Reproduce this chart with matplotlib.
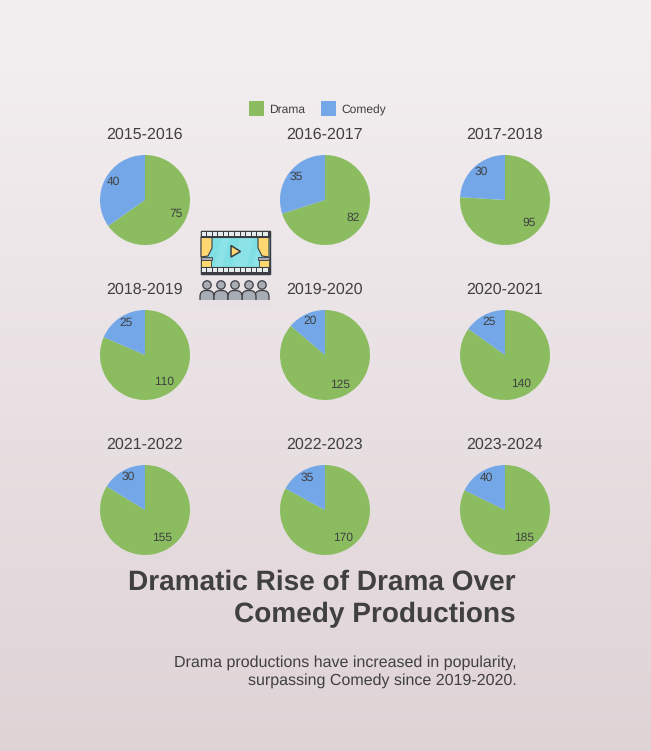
import numpy as np
import matplotlib
matplotlib.use('Agg')
import matplotlib.pyplot as plt
from matplotlib.patches import Rectangle, Polygon, Circle, FancyBboxPatch

plt.rcParams['font.family'] = ['Liberation Sans', 'DejaVu Sans']
plt.rcParams['text.hinting'] = 'no_hinting'
plt.rcParams['text.hinting_factor'] = 1

seasons = ['2015-2016', '2016-2017', '2017-2018',
           '2018-2019', '2019-2020', '2020-2021',
           '2021-2022', '2022-2023', '2023-2024']
drama = [75, 82, 95, 110, 125, 140, 155, 170, 185]
comedy = [40, 35, 30, 25, 20, 25, 30, 35, 40]

GREEN = '#8bbd60'
BLUE = '#73a7e8'
TEXT = '#404040'
LINE = '#3a3d42'

W, H = 651, 751
fig = plt.figure(figsize=(W / 100, H / 100), dpi=100)

# background and everything placed in pixels
bg = fig.add_axes([0, 0, 1, 1])
bg.set_xlim(0, W)
bg.set_ylim(H, 0)
bg.axis('off')
grad = np.linspace(0, 1, 256).reshape(-1, 1)
top = np.array([0xf4, 0xf0, 0xf2]) / 255
bottom = np.array([0xdf, 0xd3, 0xd6]) / 255
bg.imshow(top + grad[..., None] * (bottom - top), extent=[0, W, H, 0], aspect='auto', zorder=0)

# pies
centers_x = [145, 325, 505]
centers_y = [200, 355, 510]
radius = 45


def show_value(values):
    total = sum(values)
    return lambda pct: f'{round(pct * total / 100)}'


for i, season in enumerate(seasons):
    cx = centers_x[i % 3]
    cy = centers_y[i // 3]
    ax = fig.add_axes([(cx - radius - 1) / W, 1 - (cy + radius + 1) / H,
                       (2 * radius + 2) / W, (2 * radius + 2) / H])
    vals = [drama[i], comedy[i]]
    wedges, texts, autotexts = ax.pie(vals, colors=[GREEN, BLUE], startangle=90, counterclock=False,
                                      radius=1, autopct=show_value(vals), pctdistance=0.78,
                                      wedgeprops={'linewidth': 0})
    ax.set_xlim(-46 / 45, 46 / 45)
    ax.set_ylim(-46 / 45, 46 / 45)
    for t in autotexts:
        x, y = t.get_position()
        t.set_position((x, y + 2.5 / 45))
        t.set_fontsize(8.6)
        t.set_color(TEXT)
    bg.text(cx - 0.7, cy - 65, season, ha='center', va='center', fontsize=11.5, color=TEXT)

# legend
bg.add_patch(Rectangle((249, 101), 15, 15, fc=GREEN, ec='none'))
bg.text(269, 110, 'Drama', ha='left', va='center', fontsize=8.6, color=TEXT)
bg.add_patch(Rectangle((321, 101), 15, 15, fc=BLUE, ec='none'))
bg.text(341, 110, 'Comedy', ha='left', va='center', fontsize=8.6, color=TEXT)

# titles
bg.text(516, 582, 'Dramatic Rise of Drama Over', ha='right', va='center', fontsize=20,
        fontweight='bold', color=TEXT)
bg.text(516, 615, 'Comedy Productions', ha='right', va='center', fontsize=20,
        fontweight='bold', color=TEXT)
bg.text(516.5, 662.7, 'Drama productions have increased in popularity,', ha='right', va='center',
        fontsize=11.5, color=TEXT)
bg.text(516.5, 680.7, 'surpassing Comedy since 2019-2020.', ha='right', va='center',
        fontsize=11.5, color=TEXT)

# cinema icon
bg.add_patch(Rectangle((200.5, 230.5), 69, 43, fc='#7fdfe3', ec=LINE, lw=1, zorder=3))
for x0, x1 in [(214, 222), (232, 246), (252, 258)]:
    bg.add_patch(Polygon([(x0, 267), (x0 + 8, 237), (x1 + 8, 237), (x1, 267)], fc='#8ce3e7', ec='none', zorder=3))
bg.add_patch(Polygon([(201, 237), (212, 237), (212, 248), (208, 256), (201, 257)], fc='#ffd872', ec=LINE, lw=0.8, zorder=4))
bg.add_patch(Polygon([(269, 237), (258, 237), (258, 248), (262, 256), (269, 257)], fc='#ffd872', ec=LINE, lw=0.8, zorder=4))
bg.add_patch(Rectangle((201, 257), 11, 2.5, fc='#a8adb5', ec=LINE, lw=0.6, zorder=4))
bg.add_patch(Rectangle((258, 257), 11, 2.5, fc='#a8adb5', ec=LINE, lw=0.6, zorder=4))
bg.add_patch(Rectangle((201, 259.5), 10, 7.5, fc='#ffd872', ec=LINE, lw=0.6, zorder=4))
bg.add_patch(Rectangle((259, 259.5), 10, 7.5, fc='#ffd872', ec=LINE, lw=0.6, zorder=4))
bg.add_patch(Rectangle((200.5, 230.5), 69, 6.5, fc=LINE, ec=LINE, lw=0.8, zorder=5))
bg.add_patch(Rectangle((200.5, 267), 69, 6.5, fc=LINE, ec=LINE, lw=0.8, zorder=5))
for x in np.arange(201.5, 268, 5.6):
    bg.add_patch(Rectangle((x, 231.6), 4.6, 4.4, fc='#e6ecee', ec='none', zorder=6))
    bg.add_patch(Rectangle((x, 268), 4.6, 4.4, fc='#e6ecee', ec='none', zorder=6))
bg.add_patch(Polygon([(231, 245.5), (240.5, 251.5), (231, 257)], fc='#ffd872', ec=LINE, lw=1.1, zorder=6))

for hx in [207, 262, 221, 249, 235]:
    bg.add_patch(FancyBboxPatch((hx - 7, 290.5), 14, 16, boxstyle='round,pad=0,rounding_size=6',
                                fc='#a8adb5', ec=LINE, lw=0.9, zorder=3))
    bg.add_patch(Circle((hx, 285), 4.2, fc='#a8adb5', ec=LINE, lw=0.9, zorder=4))
# people are cut off flat at the bottom
bg.add_patch(Rectangle((198, 300), 74, 8, fc='#e9e2e5', ec='none', zorder=5))

fig.savefig('out.png', dpi=100)
